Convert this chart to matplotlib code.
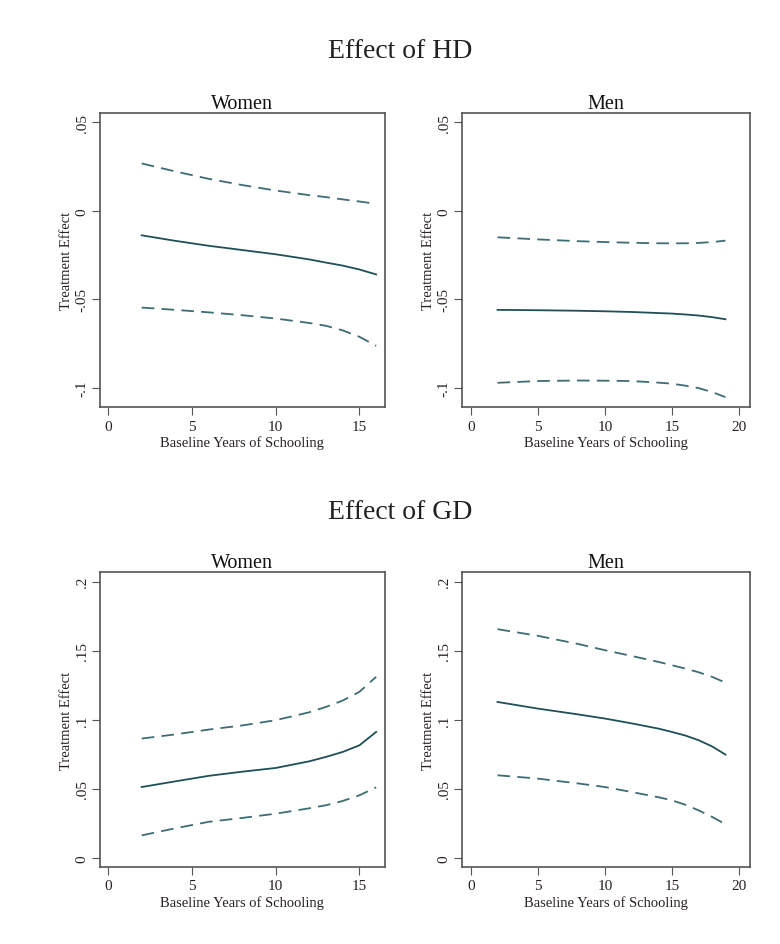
import matplotlib.pyplot as plt

plt.rcParams['font.family'] = ['Liberation Serif', 'DejaVu Serif']

# values (x = baseline years of schooling)
hd_women_x = [2, 4, 6, 8, 10, 12, 13, 14, 15, 16]
hd_women_est = [-0.0139, -0.0170, -0.0198, -0.0222, -0.0246, -0.0275, -0.0293, -0.0310, -0.0332, -0.0360]
hd_women_hi = [0.0267, 0.0222, 0.0180, 0.0145, 0.0114, 0.0088, 0.0077, 0.0064, 0.0052, 0.0039]
hd_women_lo = [-0.0547, -0.0560, -0.0574, -0.0590, -0.0609, -0.0634, -0.0650, -0.0676, -0.0712, -0.0763]

hd_men_x = [2, 5, 8, 10, 12, 14, 15, 16, 17, 18, 19]
hd_men_est = [-0.0560, -0.0562, -0.0565, -0.0568, -0.0572, -0.0578, -0.0581, -0.0586, -0.0592, -0.0601, -0.0613]
hd_men_hi = [-0.0150, -0.0162, -0.0172, -0.0177, -0.0181, -0.0184, -0.0184, -0.0184, -0.0182, -0.0177, -0.0169]
hd_men_lo = [-0.0972, -0.0962, -0.0959, -0.0960, -0.0962, -0.0971, -0.0977, -0.0988, -0.1002, -0.1024, -0.1053]

gd_women_x = [2, 4, 6, 8, 10, 12, 13, 14, 15, 16]
gd_women_est = [0.0514, 0.0555, 0.0595, 0.0625, 0.0652, 0.0700, 0.0732, 0.0768, 0.0816, 0.0913]
gd_women_hi = [0.0865, 0.0895, 0.0930, 0.0960, 0.0998, 0.1055, 0.1094, 0.1140, 0.1203, 0.1312]
gd_women_lo = [0.0164, 0.0215, 0.0262, 0.0290, 0.0321, 0.0360, 0.0382, 0.0413, 0.0454, 0.0512]

gd_men_x = [2, 5, 8, 10, 12, 14, 15, 16, 17, 18, 19]
gd_men_est = [0.1130, 0.1082, 0.1040, 0.1010, 0.0975, 0.0937, 0.0913, 0.0887, 0.0853, 0.0808, 0.0749]
gd_men_hi = [0.1657, 0.1609, 0.1550, 0.1505, 0.1463, 0.1420, 0.1396, 0.1372, 0.1345, 0.1312, 0.1270]
gd_men_lo = [0.0599, 0.0575, 0.0540, 0.0514, 0.0478, 0.0440, 0.0418, 0.0386, 0.0345, 0.0298, 0.0245]

hd_yticks = [0.05, 0, -0.05, -0.1]
hd_ylabels = ['.05', '0', '-.05', '-.1']
gd_yticks = [0.2, 0.15, 0.1, 0.05, 0]
gd_ylabels = ['.2', '.15', '.1', '.05', '0']

solid_col = '#1f4f57'
dash_col = '#3e6c73'
spine_col = '#555555'
text_col = '#2a2222'

fig = plt.figure(figsize=(7.8, 9.45), dpi=100)

panels = [
    ([0.128, 0.568, 0.365, 0.311], 'Women', hd_women_x, hd_women_est, hd_women_hi, hd_women_lo,
     (-0.5, 16.5), [0, 5, 10, 15], (-0.111, 0.055), hd_yticks, hd_ylabels),
    ([0.592, 0.568, 0.369, 0.311], 'Men', hd_men_x, hd_men_est, hd_men_hi, hd_men_lo,
     (-0.67, 20.8), [0, 5, 10, 15, 20], (-0.111, 0.055), hd_yticks, hd_ylabels),
    ([0.128, 0.0815, 0.365, 0.312], 'Women', gd_women_x, gd_women_est, gd_women_hi, gd_women_lo,
     (-0.5, 16.5), [0, 5, 10, 15], (-0.0065, 0.207), gd_yticks, gd_ylabels),
    ([0.592, 0.0815, 0.369, 0.312], 'Men', gd_men_x, gd_men_est, gd_men_hi, gd_men_lo,
     (-0.67, 20.8), [0, 5, 10, 15, 20], (-0.0065, 0.207), gd_yticks, gd_ylabels),
]

for rect, title, x, est, hi, lo, xlim, xticks, ylim, yticks, ylabels in panels:
    ax = fig.add_axes(rect)
    ax.plot(x, est, color=solid_col, lw=1.3)
    ax.plot(x, hi, color=dash_col, lw=1.3, dashes=(7, 4))
    ax.plot(x, lo, color=dash_col, lw=1.3, dashes=(7, 4))
    ax.set_xlim(*xlim)
    ax.set_ylim(*ylim)
    ax.set_xticks(xticks)
    ax.set_yticks(yticks)
    ax.set_yticklabels(ylabels, rotation=90, va='center')
    ax.tick_params(direction='out', length=6, width=0.8, color=spine_col,
                   labelsize=11, labelcolor=text_col, pad=2)
    ax.tick_params(axis='x', pad=3)
    for s in ax.spines.values():
        s.set_color(spine_col)
        s.set_linewidth(1.2)
    ax.set_title(title, fontsize=14.5, pad=4, color='#111111')
    ax.set_xlabel('Baseline Years of Schooling', fontsize=10.5, color=text_col, va='center')
    ax.xaxis.set_label_coords(0.5, -0.12)
    ax.set_ylabel('Treatment Effect', fontsize=10.5, labelpad=2, color=text_col)

fig.text(0.513, 0.945, 'Effect of HD', ha='center', va='center', fontsize=20, color='#222222')
fig.text(0.513, 0.458, 'Effect of GD', ha='center', va='center', fontsize=20, color='#222222')

fig.savefig('out.png', dpi=100, facecolor='white')
